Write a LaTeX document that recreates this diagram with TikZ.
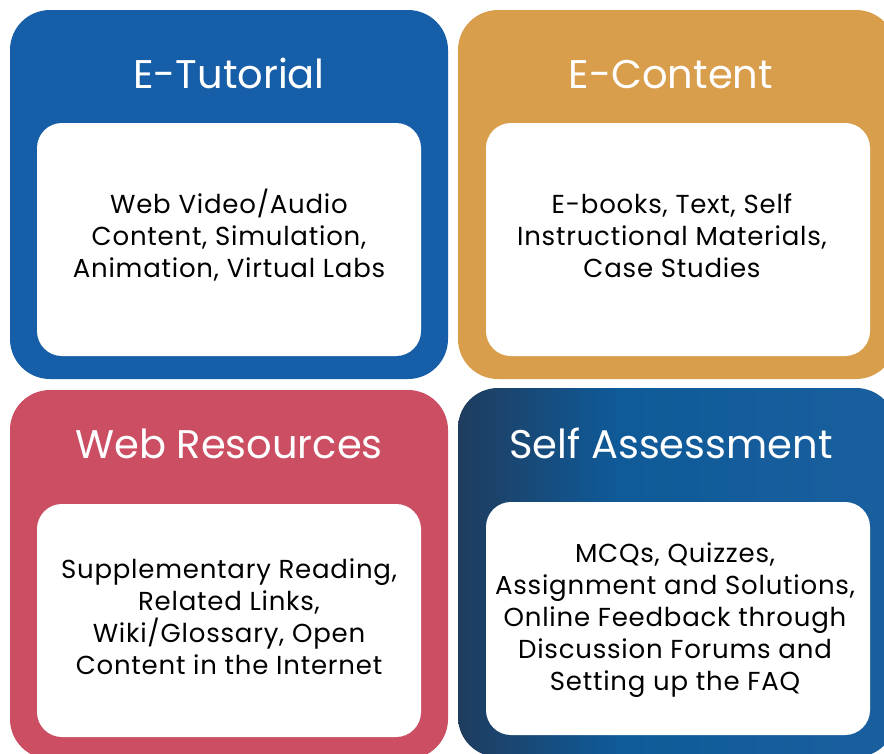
\documentclass[tikz,border=0pt]{standalone}
\usepackage{fontspec}
\setmainfont{Poppins}
\newfontfamily\bodyfont[LetterSpace=3]{Poppins}
\definecolor{tblue}{HTML}{175EA8}
\definecolor{torange}{HTML}{D99E4B}
\definecolor{tred}{HTML}{CB4E62}
\definecolor{sadark}{HTML}{1F3C5E}
\definecolor{samid}{HTML}{0F5A98}
\definecolor{saright}{HTML}{1A5F9F}
\pgfdeclarehorizontalshading{sashade}{100bp}{color(0bp)=(sadark); color(25bp)=(sadark); color(43bp)=(samid); color(75bp)=(saright); color(100bp)=(saright)}
\begin{document}
\begin{tikzpicture}[x=1pt,y=-1pt,
  outerbox/.style={rounded corners=40pt, inner sep=0pt, outer sep=0pt, anchor=north west, minimum width=438pt, minimum height=369pt, draw=none},
  innerbox/.style={rounded corners=25pt, inner sep=0pt, outer sep=0pt, anchor=north west, fill=white, minimum width=384pt, minimum height=233pt, draw=none},
  titletext/.style={anchor=base, text=white, inner sep=0pt, font=\fontsize{40}{48}\selectfont},
  bodytext/.style={anchor=center, text=black, inner sep=0pt, align=center, font=\bodyfont\fontsize{26}{32}\selectfont}]
\useasboundingbox (0,0) rectangle (884,753);
\clip (0,0) rectangle (884,753);
\fill[white] (0,0) rectangle (884,753);
% E-Tutorial
\node[outerbox, fill=tblue] (tut) at (10,10) {};
\node[innerbox] (tutin) at (37,123) {};
\node[titletext] (tutT) at (229,88) {E-Tutorial};
\node[bodytext] (tutB) at ([yshift=4pt]tutin.center) {Web Video/Audio\\Content, Simulation,\\Animation, Virtual Labs};
% E-Content
\node[outerbox, fill=torange] (con) at (458,10) {};
\node[innerbox] (conin) at (486,123) {};
\node[titletext] (conT) at (671,88) {E-Content};
\node[bodytext] (conB) at ([xshift=-6pt,yshift=4pt]conin.center) {E-books, Text, Self\\Instructional Materials,\\Case Studies};
% Web Resources
\node[outerbox, fill=tred] (web) at (10,390) {};
\node[innerbox] (webin) at (37,504) {};
\node[titletext] (webT) at (229,458) {Web Resources};
\node[bodytext] (webB) at ([yshift=4pt]webin.center) {Supplementary Reading,\\Related Links,\\Wiki/Glossary, Open\\Content in the Internet};
% Self Assessment
\node[outerbox, shading=sashade] (sa) at (458,388) {};
\node[innerbox] (sain) at (486,502) {};
\node[titletext] (saT) at (671,458) {Self Assessment};
\node[bodytext] (saB) at ([xshift=-3pt,yshift=-2pt]sain.center) {MCQs, Quizzes,\\Assignment and Solutions,\\Online Feedback through\\Discussion Forums and\\Setting up the FAQ};
\end{tikzpicture}
\end{document}
